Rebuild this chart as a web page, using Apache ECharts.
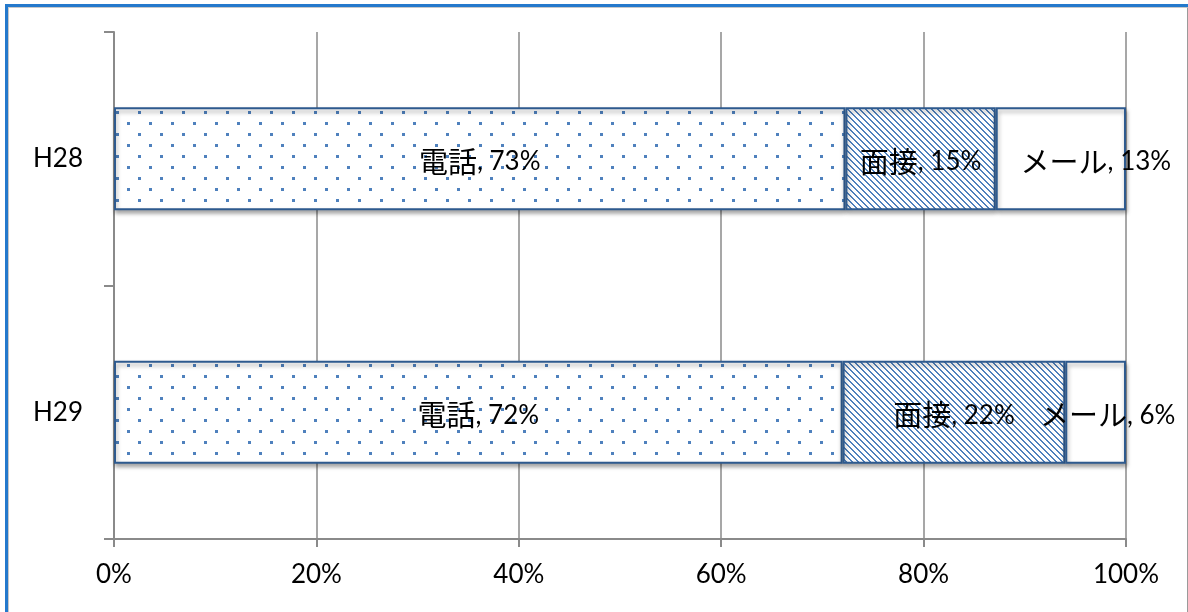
<!DOCTYPE html>
<html><head><meta charset="utf-8">
<script src="https://cdn.jsdelivr.net/npm/echarts@6/dist/echarts.min.js"></script>
<style>
html,body{margin:0;padding:0;background:#fff;}
#frame{position:absolute;left:5px;top:4px;width:1180px;height:608px;border-top:3px solid #2479cc;border-left:3px solid #2479cc;}
#inner{position:absolute;left:8px;top:7px;width:1178px;height:605px;border-top:1px solid #c8c8c8;border-left:1px solid #c8c8c8;border-right:2px solid #9a9a9a;}
#chart{position:absolute;left:0;top:0;width:1188px;height:612px;}
</style>
</head><body>
<div id="frame"></div><div id="inner"></div>
<div id="chart"></div>
<script>
// ---- data ----
const categories = ['H28', 'H29'];
const seriesNames = ['電話', '面接', 'メール'];
const telValues = [73, 72];
const meetValues = [15, 22];
const mailValues = [13, 6];
const xTicks = [0, 20, 40, 60, 80, 100];

// ---- patterns ----
function dotPattern() {
  const c = document.createElement('canvas'); c.width = 22; c.height = 22;
  const g = c.getContext('2d');
  g.fillStyle = '#fff'; g.fillRect(0, 0, 22, 22);
  g.fillStyle = '#4f81bd';
  g.fillRect(6, 1, 3, 3);
  g.fillRect(17, 12, 3, 3);
  return c;
}
function stripePattern() {
  const n = 6;
  const c = document.createElement('canvas'); c.width = n; c.height = n;
  const g = c.getContext('2d');
  g.fillStyle = '#fff'; g.fillRect(0, 0, n, n);
  g.fillStyle = '#4f81bd';
  for (let y = 0; y < n; y++) for (let x = 0; x < n; x++) {
    if (((x - y) % n + n) % n < 2) g.fillRect(x, y, 1, 1);
  }
  return c;
}

const raw = [telValues, meetValues, mailValues];
const totals = categories.map((_, i) => raw.reduce((s, arr) => s + arr[i], 0));
const fills = [{image: dotPattern(), repeat: 'repeat'}, {image: stripePattern(), repeat: 'repeat'}, '#ffffff'];
// label horizontal shifts (layout only)
const labelShift = [[0, 0], [0, 0], [35, 12]];

const series = seriesNames.map((name, si) => ({
  name: name,
  type: 'bar',
  stack: 'total',
  barWidth: '40.6%',
  data: categories.map((_, ci) => ({
    value: raw[si][ci] / totals[ci] * 100,
    label: {offset: [labelShift[si][ci], 3]}
  })),
  itemStyle: {
    color: fills[si],
    borderColor: '#2e5a8e',
    borderWidth: 2,
    shadowColor: 'rgba(0,0,0,0.35)',
    shadowBlur: 4,
    shadowOffsetX: 1,
    shadowOffsetY: 3
  },
  label: {
    show: true,
    position: 'inside',
    formatter: p => '{c|' + name + '}{n|, ' + raw[si][p.dataIndex] + '%}',
    rich: {
      c: {fontFamily: '"Noto Sans CJK JP"', fontSize: 29, color: '#000'},
      n: {fontFamily: 'Lato', fontSize: 26, color: '#000'}
    }
  }
}));

const chart = echarts.init(document.getElementById('chart'), null, {renderer: 'canvas'});
chart.setOption({
  animation: false,
  backgroundColor: 'transparent',
  grid: {left: 114, right: 62, top: 32, bottom: 73, containLabel: false},
  xAxis: {
    type: 'value', min: xTicks[0], max: xTicks[xTicks.length - 1], interval: 20,
    axisLine: {show: true, lineStyle: {color: '#8a8a8a', width: 2}},
    axisTick: {show: true, length: 8, lineStyle: {color: '#8a8a8a', width: 2}},
    splitLine: {show: true, lineStyle: {color: '#8a8a8a', width: 1.5}},
    axisLabel: {formatter: '{value}%', margin: 23, fontFamily: 'Lato', fontSize: 26, color: '#000'}
  },
  yAxis: {
    type: 'category', data: categories, inverse: true,
    axisLine: {show: true, lineStyle: {color: '#8a8a8a', width: 2}},
    axisTick: {show: true, length: 10, lineStyle: {color: '#8a8a8a', width: 2}},
    axisLabel: {margin: 31, fontFamily: 'Lato', fontSize: 26, color: '#000'},
    splitLine: {show: false}
  },
  series: series
});
</script>
</body></html>
